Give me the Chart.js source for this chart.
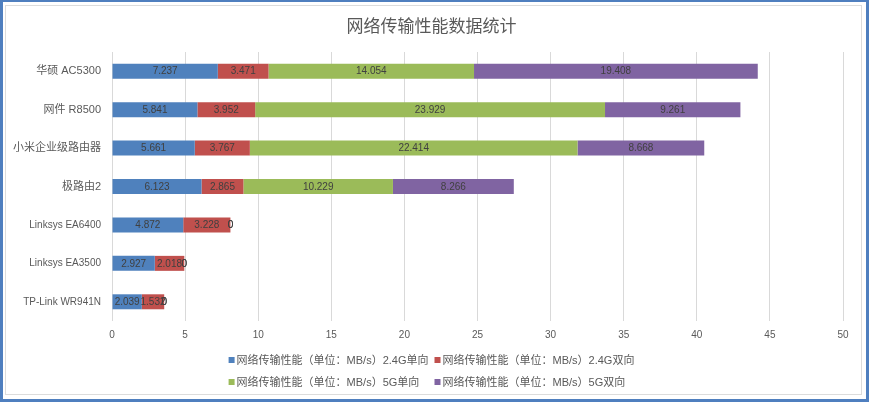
<!DOCTYPE html>
<html><head><meta charset="utf-8">
<script src="https://cdn.jsdelivr.net/npm/chart.js@4.4.0/dist/chart.umd.min.js"></script>
<style>
html,body{margin:0;padding:0;background:#fff;}
#frame{position:absolute;left:0;top:0;width:869px;height:402px;box-sizing:border-box;border:3px solid #4f7fbf;border-top-width:2px;background:#fff;}
#wrap{position:absolute;left:0;top:0;width:863px;height:397px;}
</style></head><body>
<div id="frame"><div id="wrap"><canvas id="c"></canvas></div></div>
<script>
const titleText = '网络传输性能数据统计';
const categories = ['华硕 AC5300', '网件 R8500', '小米企业级路由器', '极路由2', 'Linksys EA6400', 'Linksys EA3500', 'TP-Link WR941N'];
const seriesNames = [
  '网络传输性能（单位：MB/s）2.4G单向',
  '网络传输性能（单位：MB/s）2.4G双向',
  '网络传输性能（单位：MB/s）5G单向',
  '网络传输性能（单位：MB/s）5G双向'
];
const s24Single = [7.237, 5.841, 5.661, 6.123, 4.872, 2.927, 2.039];
const s24Dual   = [3.471, 3.952, 3.767, 2.865, 3.228, 2.018, 1.532];
const s5Single  = [14.054, 23.929, 22.414, 10.229, 0, 0, 0];
const s5Dual    = [19.408, 9.261, 8.668, 8.266, 0, 0, 0];
const xMin = 0, xMax = 50, xStep = 5;
const colors = ['#4f81bd', '#c0504d', '#9bbb59', '#8064a2'];

const LATIN = '"Liberation Sans", "Noto Sans CJK SC", sans-serif';

const frameLine = {
  id: 'frameLine',
  beforeDraw(chart) {
    const ctx = chart.ctx;
    ctx.save();
    ctx.strokeStyle = '#dcdcdc';
    ctx.lineWidth = 1;
    ctx.strokeRect(2.5, 3.5, 856, 389);
    ctx.restore();
  }
};

const chartTitle = {
  id: 'chartTitle',
  afterDraw(chart) {
    const ctx = chart.ctx;
    ctx.save();
    ctx.font = '17px "Noto Sans CJK SC", sans-serif';
    ctx.fillStyle = '#595959';
    ctx.textAlign = 'center';
    ctx.textBaseline = 'middle';
    ctx.fillText(titleText, chart.width / 2 - 3, 24);
    ctx.restore();
  }
};

const valueLabels = {
  id: 'valueLabels',
  afterDatasetsDraw(chart) {
    const ctx = chart.ctx;
    ctx.save();
    ctx.font = '10px ' + LATIN;
    ctx.fillStyle = '#404040';
    ctx.textAlign = 'center';
    ctx.textBaseline = 'middle';
    chart.data.datasets.forEach((ds, i) => {
      const meta = chart.getDatasetMeta(i);
      meta.data.forEach((bar, j) => {
        const v = ds.data[j];
        const p = bar.getProps(['x', 'y', 'base'], true);
        const cx = (p.x + p.base) / 2;
        ctx.fillText(v === 0 ? '0' : v.toFixed(3), cx, p.y + 0.5);
      });
    });
    ctx.restore();
  }
};

const gridLegend = {
  id: 'gridLegend',
  afterDraw(chart) {
    const ctx = chart.ctx;
    ctx.save();
    ctx.font = '11px ' + LATIN;
    ctx.textBaseline = 'middle';
    ctx.textAlign = 'left';
    const ds = chart.data.datasets;
    const box = 6, gap = 2, colGap = 6;
    const widths = ds.map(d => box + gap + ctx.measureText(d.label).width);
    const colW = [Math.max(widths[0], widths[2]), Math.max(widths[1], widths[3])];
    const total = colW[0] + colGap + colW[1];
    const startX = chart.width / 2 - 3 - total / 2;
    const rowY = [chart.chartArea.bottom + 39, chart.chartArea.bottom + 61];
    ds.forEach((d, i) => {
      const col = i % 2, row = Math.floor(i / 2);
      const x = startX + (col === 0 ? 0 : colW[0] + colGap);
      const y = rowY[row];
      ctx.fillStyle = d.backgroundColor;
      ctx.fillRect(x, y - box / 2, box, box);
      ctx.fillStyle = '#595959';
      ctx.fillText(d.label, x + box + gap, y + 0.5);
    });
    ctx.restore();
  }
};

const datasets = [s24Single, s24Dual, s5Single, s5Dual].map((arr, i) => ({
  label: seriesNames[i],
  data: arr,
  backgroundColor: colors[i],
  borderWidth: 0,
  barPercentage: 0.39,
  categoryPercentage: 1.0
}));

new Chart(document.getElementById('c'), {
  type: 'bar',
  data: { labels: categories, datasets },
  plugins: [frameLine, chartTitle, valueLabels, gridLegend],
  options: {
    indexAxis: 'y',
    responsive: true,
    maintainAspectRatio: false,
    animation: false,
    layout: { padding: { left: 0, right: 23, top: 50, bottom: 50 } },
    plugins: {
      legend: { display: false },
      tooltip: { enabled: false },
      title: { display: false }
    },
    scales: {
      x: {
        stacked: true,
        min: xMin, max: xMax,
        ticks: { stepSize: xStep, color: '#595959', padding: 8, font: { family: LATIN, size: 10 } },
        grid: { color: '#d9d9d9', drawTicks: false },
        border: { display: false }
      },
      y: {
        stacked: true,
        afterFit(s) { s.width = 109; },
        ticks: {
          color: '#595959', padding: 11,
          font: (c) => {
            const lbl = categories[c.index] || '';
            const latinOnly = /^[\x00-\x7F]+$/.test(lbl);
            return { family: LATIN, size: latinOnly ? 10 : 11 };
          }
        },
        grid: { display: false, drawTicks: false },
        border: { display: false }
      }
    }
  }
});
</script>
</body></html>
